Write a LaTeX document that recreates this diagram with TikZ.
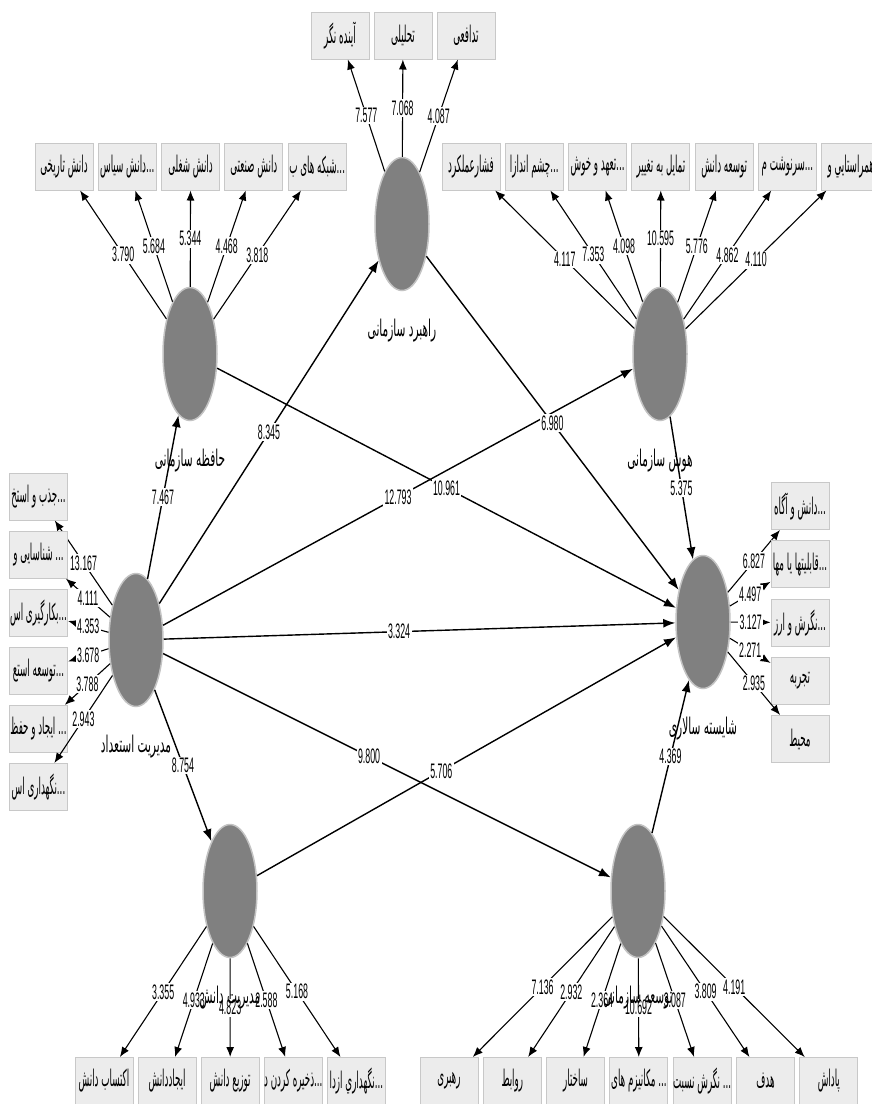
\documentclass[tikz,border=0pt]{standalone}
\usepackage{fontspec}
\newfontfamily\fafont[Script=Arabic,FakeStretch=0.38]{DejaVu Sans}
\newfontfamily\nmfont[Script=Arabic,FakeStretch=0.46]{DejaVu Sans}
\newfontfamily\numfont[FakeStretch=0.42]{Liberation Sans}
\TeXXeTstate=1
\usetikzlibrary{shapes.geometric,arrows.meta,positioning}

\definecolor{lvgray}{RGB}{128,128,128}
\definecolor{lvedge}{RGB}{195,195,195}
\definecolor{boxfill}{RGB}{236,236,236}
\definecolor{boxedge}{RGB}{200,200,200}
\newcommand\tdots{...}

\tikzset{
  latent/.style={ellipse,fill=lvgray,draw=lvedge,line width=1.5pt,
    minimum width=54pt,minimum height=133pt,inner sep=0pt},
  indbox/.style={rectangle,fill=boxfill,draw=boxedge,line width=1pt,
    minimum width=58pt,minimum height=47pt,inner sep=0pt,
    font=\fafont\fontsize{23}{24}\selectfont},
  lvname/.style={inner sep=0pt,font=\nmfont\fontsize{23}{24}\selectfont},
  tval/.style={fill=white,inner sep=1.5pt,font=\numfont\fontsize{21}{22}\selectfont},
  structpath/.style={-{Latex[length=12pt,width=9pt]},line width=1.4pt},
  loadpath/.style={-{Latex[length=10pt,width=8pt]},line width=1.1pt},
}

\begin{document}
\begin{tikzpicture}[x=1pt,y=-1pt]
  \useasboundingbox (0,0) rectangle (872,1104);

  % latent variables
  \node[latent] (strat)    at (402,224) {};
  \node[latent] (hafeze)   at (190,354) {};
  \node[latent] (hoosh)    at (660,354) {};
  \node[latent] (estedad)  at (136,640) {};
  \node[latent] (shayeste) at (703,622) {};
  \node[latent] (danesh)   at (230,891) {};
  \node[latent] (tosee)    at (638,891) {};

  % indicators and loadings
  \foreach \txt/\val [count=\i] in {آینده نگر/7.577, تحلیلی/7.068, تدافعی/4.087}
    {\node[indbox] (st\i) at ({340+63*(\i-1)},35.5) {\beginR\txt\endR};
     \draw[loadpath] (strat) -- (st\i) node[midway,tval] {\val};}

  \foreach \txt/\val [count=\i] in {دانش تاریخی/3.790, \tdots دانش سیاس/5.684, دانش شغلی/5.344,
      دانش صنعتی/4.468, \tdots شبکه های ب/3.818}
    {\node[indbox] (hf\i) at ({64+63.3*(\i-1)},166.5) {\beginR\txt\endR};
     \draw[loadpath] (hafeze) -- (hf\i) node[midway,tval] {\val};}

  \foreach \txt/\val [count=\i] in {فشارعملکرد/4.117, \tdots چشم اندازا/7.353, \tdots تعهد و خوش/4.098,
      تمایل به تغییر/10.595, توسعه دانش/5.776, \tdots سرنوشت م/4.862, همراستايي و/4.110}
    {\node[indbox] (hs\i) at ({471+63.3*(\i-1)},166.5) {\beginR\txt\endR};
     \draw[loadpath] (hoosh) -- (hs\i) node[midway,tval] {\val};}

  \foreach \txt/\val [count=\i] in {\tdots جذب و استخ/13.167, \tdots\ شناسایی و/4.111, \tdots بکارگیری اس/4.353,
      \tdots توسعه استع/3.678, \tdots\ ایجاد و حفظ/3.788, \tdots نگهداری اس/2.943}
    {\node[indbox] (es\i) at (38.5,{496.5+58.1*(\i-1)}) {\beginR\txt\endR};
     \draw[loadpath] (estedad) -- (es\i) node[midway,tval] {\val};}

  \foreach \txt/\val [count=\i] in {\tdots دانش و آگاه/6.827, \tdots قابلیتها یا مها/4.497, \tdots نگرش و ارز/3.127,
      تجربه/2.271, محیط/2.935}
    {\node[indbox] (sh\i) at (800,{506+58.25*(\i-1)}) {\beginR\txt\endR};
     \draw[loadpath] (shayeste) -- (sh\i) node[midway,tval] {\val};}

  \foreach \txt/\val [count=\i] in {اکتساب دانش/3.355, ایجاددانش/4.933, توزیع دانش/4.823,
      \tdots ذخیره کردن د/2.588, \tdots نگهداري ازدا/5.168}
    {\node[indbox] (dn\i) at ({104+63.1*(\i-1)},1081) {\beginR\txt\endR};
     \draw[loadpath] (danesh) -- (dn\i) node[midway,tval] {\val};}

  \foreach \txt/\val [count=\i] in {رهبری/7.136, روابط/2.932, ساختار/2.364, \tdots\ مکانیزم های/10.692,
      \tdots\ نگرش نسبت/3.087, هدف/3.809, پاداش/4.191}
    {\node[indbox] (ts\i) at ({449+63.3*(\i-1)},1081) {\beginR\txt\endR};
     \draw[loadpath] (tosee) -- (ts\i) node[midway,tval] {\val};}

  % structural paths
  \draw[structpath] (estedad) -- (hoosh) node[midway,tval] {12.793};
  \draw[structpath] (estedad) -- (hafeze) node[midway,tval] {7.467};
  \draw[structpath] (estedad) -- (strat) node[midway,tval] {8.345};
  \draw[structpath] (estedad) -- (shayeste) node[pos=0.46,tval] {3.324};
  \draw[structpath] (estedad) -- (tosee) node[pos=0.46,tval] {9.800};
  \draw[structpath] (estedad) -- (danesh) node[midway,tval] {8.754};
  \draw[structpath] (hafeze) -- (shayeste) node[midway,tval] {10.961};
  \draw[structpath] (strat) -- (shayeste) node[midway,tval] {6.980};
  \draw[structpath] (hoosh) -- (shayeste) node[midway,tval] {5.375};
  \draw[structpath] (danesh) -- (shayeste) node[pos=0.44,tval] {5.706};
  \draw[structpath] (tosee) -- (shayeste) node[midway,tval] {4.369};

  % latent names
  \node[lvname,below=28pt of strat] (stratname) {\beginR راهبرد سازمانی\endR};
  \node[lvname,below=28pt of hafeze] (hafezename) {\beginR حافظه سازمانی\endR};
  \node[lvname,below=28pt of hoosh] (hooshname) {\beginR هوش سازمانی\endR};
  \node[lvname,below=28pt of estedad] (estedadname) {\beginR مديريت استعداد\endR};
  \node[lvname,below=28pt of shayeste] (shayestename) {\beginR شایسته سالاری\endR};
  \node[lvname,below=28pt of danesh] (daneshname) {\beginR مدیریت دانش\endR};
  \node[lvname,below=28pt of tosee] (toseename) {\beginR توسعه سازمانی\endR};
\end{tikzpicture}
\end{document}
